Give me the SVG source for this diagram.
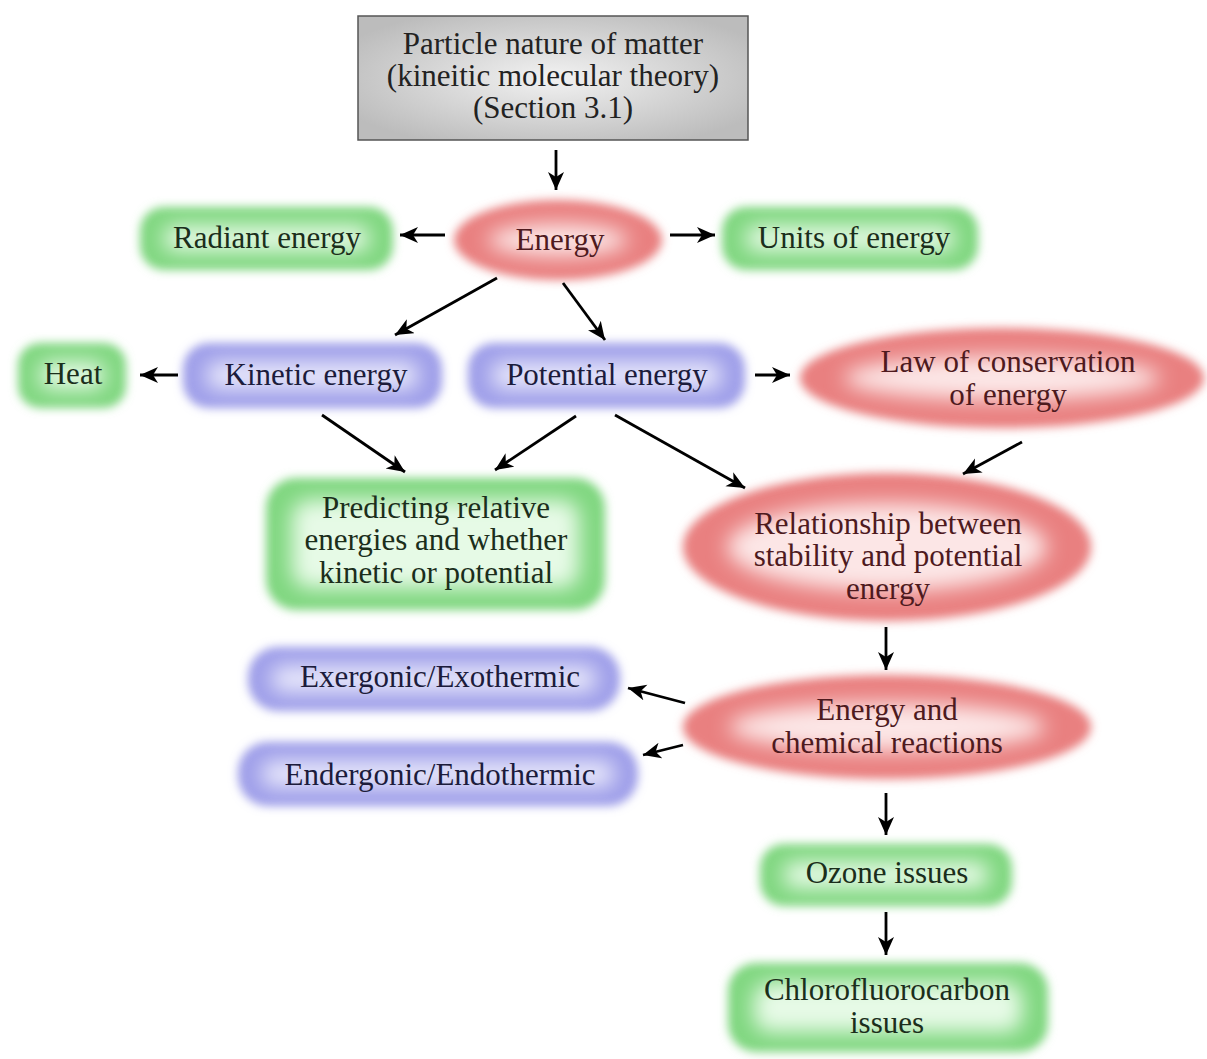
<svg xmlns="http://www.w3.org/2000/svg" width="1207" height="1059" viewBox="0 0 1207 1059">
<defs>
<filter id="soft" x="-30%" y="-60%" width="160%" height="220%"><feGaussianBlur stdDeviation="5"/></filter>
<filter id="softer" x="-30%" y="-60%" width="160%" height="220%"><feGaussianBlur stdDeviation="10"/></filter>
<radialGradient id="grayg" cx="50%" cy="50%" r="60%"><stop offset="0" stop-color="#f2f2f2"/><stop offset="1" stop-color="#bcbcbc"/></radialGradient>
<marker id="ah" markerUnits="userSpaceOnUse" markerWidth="19" markerHeight="17" refX="18" refY="8" orient="auto">
<path d="M0,0 L18,8 L0,16 L5,8 Z" fill="#000"/>
</marker>
<style>
text{font-family:"Liberation Serif","Times New Roman",serif;font-size:31px;text-anchor:middle}
.go{fill:#80d780}.gi{fill:#e6fae6}.gt{fill:#1b2e1b}
.ro{fill:#e98080}.ri{fill:#fce6e6}.rt{fill:#4e1a1e}
.bo{fill:#9f9fe9}.bi{fill:#e8e8fb}.bt{fill:#1c1c3c}
.o{filter:url(#soft)}.i{filter:url(#softer)}
.c line{stroke:#000;stroke-width:2.8;marker-end:url(#ah)}
</style>
</defs>
<rect width="1207" height="1059" fill="#fff"/>

<g id="particle">
<rect x="358" y="16" width="390" height="124" fill="url(#grayg)" stroke="#555" stroke-width="1.5"/>
<text x="553" y="54" fill="#222">Particle nature of matter</text>
<text x="553" y="86" fill="#222">(kineitic molecular theory)</text>
<text x="553" y="118" fill="#222">(Section 3.1)</text>
</g>

<g id="energy">
<ellipse class="ro o" cx="558" cy="240" rx="104" ry="40"/>
<ellipse class="ri i" cx="558" cy="240" rx="70" ry="16"/>
<text class="rt" x="560" y="250">Energy</text>
</g>

<g id="radiant">
<rect class="go o" x="140" y="207" width="253" height="63" rx="24"/>
<rect class="gi i" x="164" y="226" width="205" height="25" rx="10"/>
<text class="gt" x="267" y="248">Radiant energy</text>
</g>

<g id="units">
<rect class="go o" x="722" y="207" width="256" height="63" rx="24"/>
<rect class="gi i" x="746" y="226" width="208" height="25" rx="10"/>
<text class="gt" x="854" y="248">Units of energy</text>
</g>

<g id="heat">
<rect class="go o" x="18" y="343" width="108" height="65" rx="22"/>
<rect class="gi i" x="40" y="362" width="64" height="27" rx="10"/>
<text class="gt" x="73" y="384">Heat</text>
</g>

<g id="kinetic">
<rect class="bo o" x="183" y="343" width="259" height="65" rx="26"/>
<rect class="bi i" x="207" y="362" width="211" height="27" rx="10"/>
<text class="bt" x="316" y="385">Kinetic energy</text>
</g>

<g id="potential">
<rect class="bo o" x="468" y="343" width="277" height="65" rx="26"/>
<rect class="bi i" x="492" y="362" width="229" height="27" rx="10"/>
<text class="bt" x="607" y="385">Potential energy</text>
</g>

<g id="law">
<ellipse class="ro o" cx="1002" cy="378" rx="202" ry="50"/>
<ellipse class="ri i" cx="1002" cy="378" rx="158" ry="22"/>
<text class="rt" x="1008" y="372">Law of conservation</text>
<text class="rt" x="1008" y="405">of energy</text>
</g>

<g id="predicting">
<rect class="go o" x="266" y="478" width="339" height="132" rx="30"/>
<rect class="gi i" x="292" y="500" width="287" height="88" rx="18"/>
<text class="gt" x="436" y="518">Predicting relative</text>
<text class="gt" x="436" y="550">energies and whether</text>
<text class="gt" x="436" y="583">kinetic or potential</text>
</g>

<g id="relationship">
<ellipse class="ro o" cx="887" cy="547" rx="204" ry="74"/>
<ellipse class="ri i" cx="887" cy="547" rx="160" ry="44"/>
<text class="rt" x="888" y="534">Relationship between</text>
<text class="rt" x="888" y="566">stability and potential</text>
<text class="rt" x="888" y="599">energy</text>
</g>

<g id="exergonic">
<rect class="bo o" x="248" y="647" width="372" height="64" rx="30"/>
<rect class="bi i" x="272" y="666" width="324" height="26" rx="10"/>
<text class="bt" x="440" y="687">Exergonic/Exothermic</text>
</g>

<g id="endergonic">
<rect class="bo o" x="238" y="742" width="400" height="64" rx="30"/>
<rect class="bi i" x="262" y="761" width="352" height="26" rx="10"/>
<text class="bt" x="440" y="785">Endergonic/Endothermic</text>
</g>

<g id="chemical">
<ellipse class="ro o" cx="887" cy="727" rx="204" ry="52"/>
<ellipse class="ri i" cx="887" cy="727" rx="158" ry="24"/>
<text class="rt" x="887" y="720">Energy and</text>
<text class="rt" x="887" y="753">chemical reactions</text>
</g>

<g id="ozone">
<rect class="go o" x="760" y="844" width="252" height="62" rx="24"/>
<rect class="gi i" x="784" y="862" width="204" height="26" rx="10"/>
<text class="gt" x="887" y="883">Ozone issues</text>
</g>

<g id="cfc">
<rect class="go o" x="728" y="963" width="320" height="89" rx="28"/>
<rect class="gi i" x="754" y="983" width="268" height="49" rx="16"/>
<text class="gt" x="887" y="1000">Chlorofluorocarbon</text>
<text class="gt" x="887" y="1033">issues</text>
</g>

<g id="connectors" class="c">
<line x1="556" y1="150" x2="556" y2="190"/>
<line x1="445" y1="235" x2="400" y2="235"/>
<line x1="670" y1="235" x2="715" y2="235"/>
<line x1="497" y1="278" x2="395" y2="335"/>
<line x1="563" y1="283" x2="605" y2="340"/>
<line x1="178" y1="375" x2="140" y2="375"/>
<line x1="755" y1="375" x2="790" y2="375"/>
<line x1="322" y1="415" x2="405" y2="472"/>
<line x1="576" y1="416" x2="495" y2="470"/>
<line x1="615" y1="415" x2="745" y2="488"/>
<line x1="1022" y1="442" x2="963" y2="474"/>
<line x1="886" y1="627" x2="886" y2="670"/>
<line x1="685" y1="703" x2="628" y2="688"/>
<line x1="683" y1="745" x2="643" y2="755"/>
<line x1="886" y1="793" x2="886" y2="835"/>
<line x1="886" y1="912" x2="886" y2="955"/>
</g>
</svg>
